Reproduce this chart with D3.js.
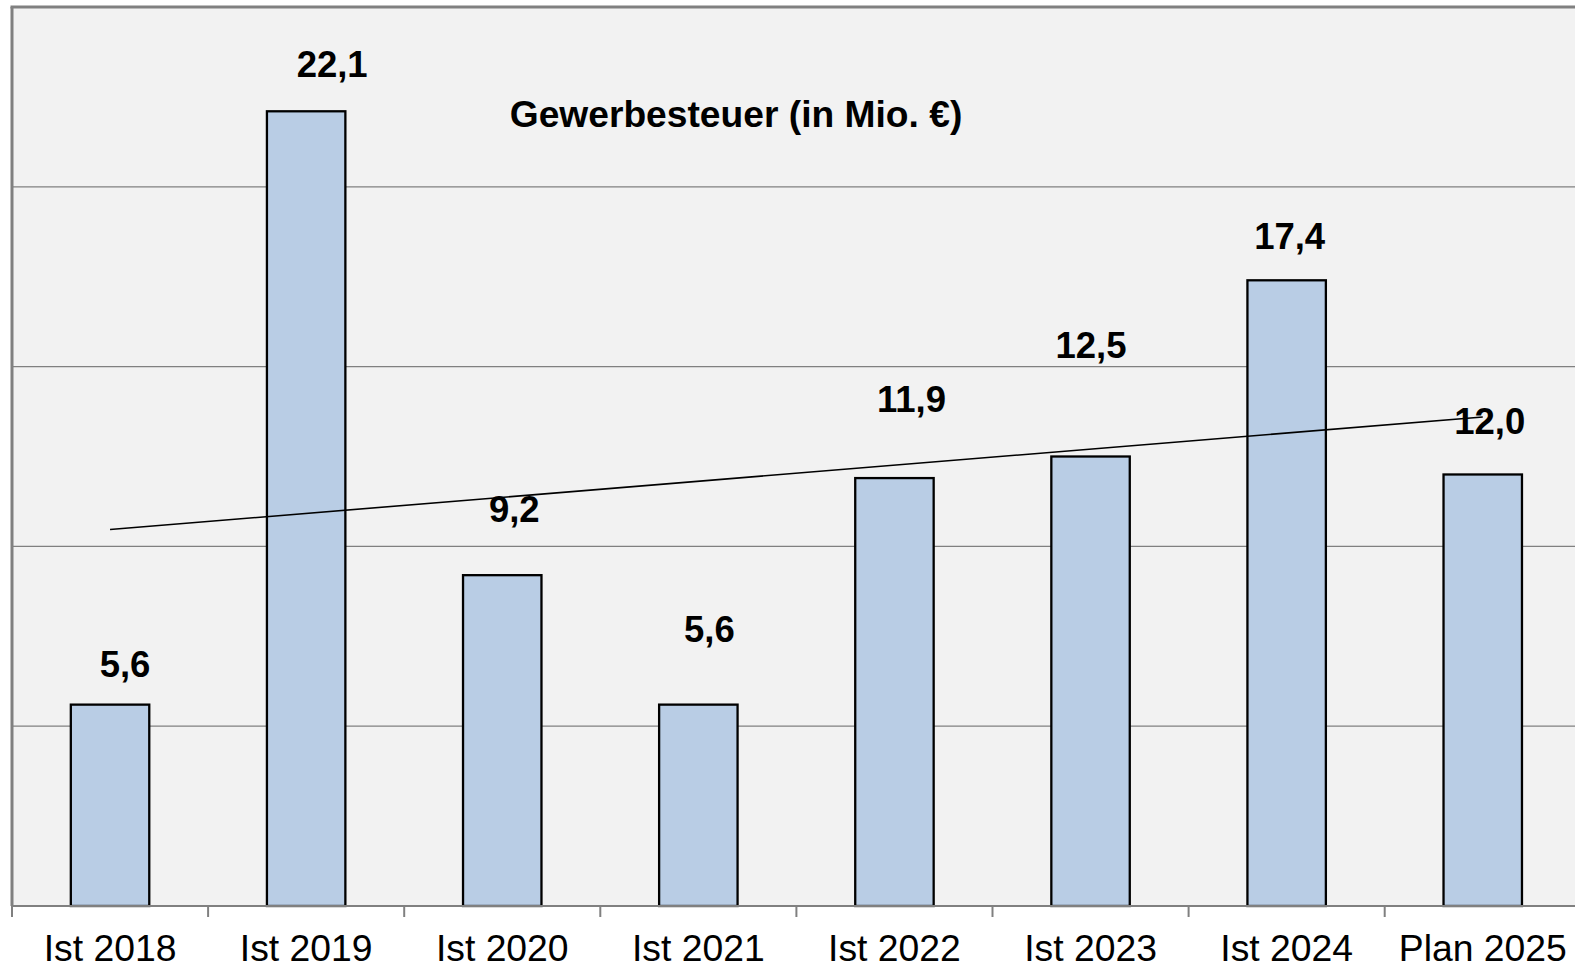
<!DOCTYPE html>
<html>
<head>
<meta charset="utf-8">
<script src="https://cdn.jsdelivr.net/npm/d3@7"></script>
<style>
  html, body { margin: 0; padding: 0; background: #fff; }
  svg { display: block; font-family: "Liberation Sans", Arial, sans-serif; }
</style>
</head>
<body>
<div id="chart"></div>
<script>
// data
const categories = ['Ist 2018', 'Ist 2019', 'Ist 2020', 'Ist 2021', 'Ist 2022', 'Ist 2023', 'Ist 2024', 'Plan 2025'];
const values = [5.6, 22.1, 9.2, 5.6, 11.9, 12.5, 17.4, 12.0];
const valueLabels = ['5,6', '22,1', '9,2', '5,6', '11,9', '12,5', '17,4', '12,0'];
const trendEnds = [10.47, 13.6];          // linear trend at first and last category
const yTicks = [5, 10, 15, 20];
const title = 'Gewerbesteuer (in Mio. €)';

// hand placed data labels (px from bar centre / bar top)
const labelDx = [15, 26, 12, 11, 17, 0.5, 3, 7];
const labelDy = [28, 34, 53, 63, 66, 99, 31, 40.5];

const W = 1575, H = 968;
const MARGIN = { LEFT: 12, TOP: 7 };
const PLOT_W = 196.1 * categories.length;
const PLOT_H = 899;

const svg = d3.select('#chart').append('svg')
    .attr('width', W)
    .attr('height', H);

const g = svg.append('g')
    .attr('transform', `translate(${MARGIN.LEFT}, ${MARGIN.TOP})`);

const x = d3.scaleBand().domain(categories).range([0, PLOT_W]).padding(0);
const y = d3.scaleLinear().domain([0, 25]).range([PLOT_H, 0]);

// plot background
g.append('rect')
    .attr('x', 0).attr('y', 0)
    .attr('width', PLOT_W).attr('height', PLOT_H)
    .attr('fill', '#f2f2f2');

// gridlines
g.selectAll('.grid')
    .data(yTicks)
    .enter()
    .append('line')
    .attr('x1', 0).attr('x2', PLOT_W)
    .attr('y1', d => y(d)).attr('y2', d => y(d))
    .attr('stroke', '#808080')
    .attr('stroke-width', 1.3);

// top and left border
g.append('line')
    .attr('x1', -1.5).attr('x2', PLOT_W)
    .attr('y1', y(25)).attr('y2', y(25))
    .attr('stroke', '#808080').attr('stroke-width', 3);
g.append('line')
    .attr('x1', 0).attr('x2', 0)
    .attr('y1', y(25)).attr('y2', y(0))
    .attr('stroke', '#808080').attr('stroke-width', 3);

// bars
const barW = x.bandwidth() * 0.4;
g.selectAll('.bar')
    .data(values)
    .enter()
    .append('rect')
    .attr('x', (d, i) => x(categories[i]) + x.bandwidth() / 2 - barW / 2)
    .attr('y', d => y(d))
    .attr('width', barW)
    .attr('height', d => y(0) - y(d))
    .attr('fill', '#b9cde5')
    .attr('stroke', '#000')
    .attr('stroke-width', 2.3);

// x axis
const xAxis = g.append('g')
    .attr('transform', `translate(0, ${y(0)})`);
xAxis.append('line')
    .attr('x1', 0).attr('x2', PLOT_W)
    .attr('stroke', '#808080').attr('stroke-width', 2);
xAxis.selectAll('.tick')
    .data(d3.range(categories.length + 1))
    .enter()
    .append('line')
    .attr('x1', i => i * x.step()).attr('x2', i => i * x.step())
    .attr('y1', 0).attr('y2', 11)
    .attr('stroke', '#808080').attr('stroke-width', 2);
xAxis.selectAll('.cat')
    .data(categories)
    .enter()
    .append('text')
    .attr('x', d => x(d) + x.bandwidth() / 2)
    .attr('y', 55)
    .attr('text-anchor', 'middle')
    .attr('font-size', 37.3)
    .attr('fill', '#000')
    .text(d => d);

// trend line
const first = categories[0], last = categories[categories.length - 1];
g.append('line')
    .attr('x1', x(first) + x.bandwidth() / 2)
    .attr('y1', y(trendEnds[0]))
    .attr('x2', x(last) + x.bandwidth() / 2)
    .attr('y2', y(trendEnds[1]))
    .attr('stroke', '#000')
    .attr('stroke-width', 1.6);

// data labels
g.selectAll('.val')
    .data(values)
    .enter()
    .append('text')
    .attr('x', (d, i) => x(categories[i]) + x.bandwidth() / 2 + labelDx[i])
    .attr('y', (d, i) => y(d) - labelDy[i])
    .attr('text-anchor', 'middle')
    .attr('font-size', 36.5)
    .attr('font-weight', 'bold')
    .attr('fill', '#000')
    .text((d, i) => valueLabels[i]);

// title
g.append('text')
    .attr('x', 736 - MARGIN.LEFT)
    .attr('y', 127 - MARGIN.TOP)
    .attr('text-anchor', 'middle')
    .attr('font-size', 37.2)
    .attr('font-weight', 'bold')
    .attr('fill', '#000')
    .text(title);
</script>
</body>
</html>
